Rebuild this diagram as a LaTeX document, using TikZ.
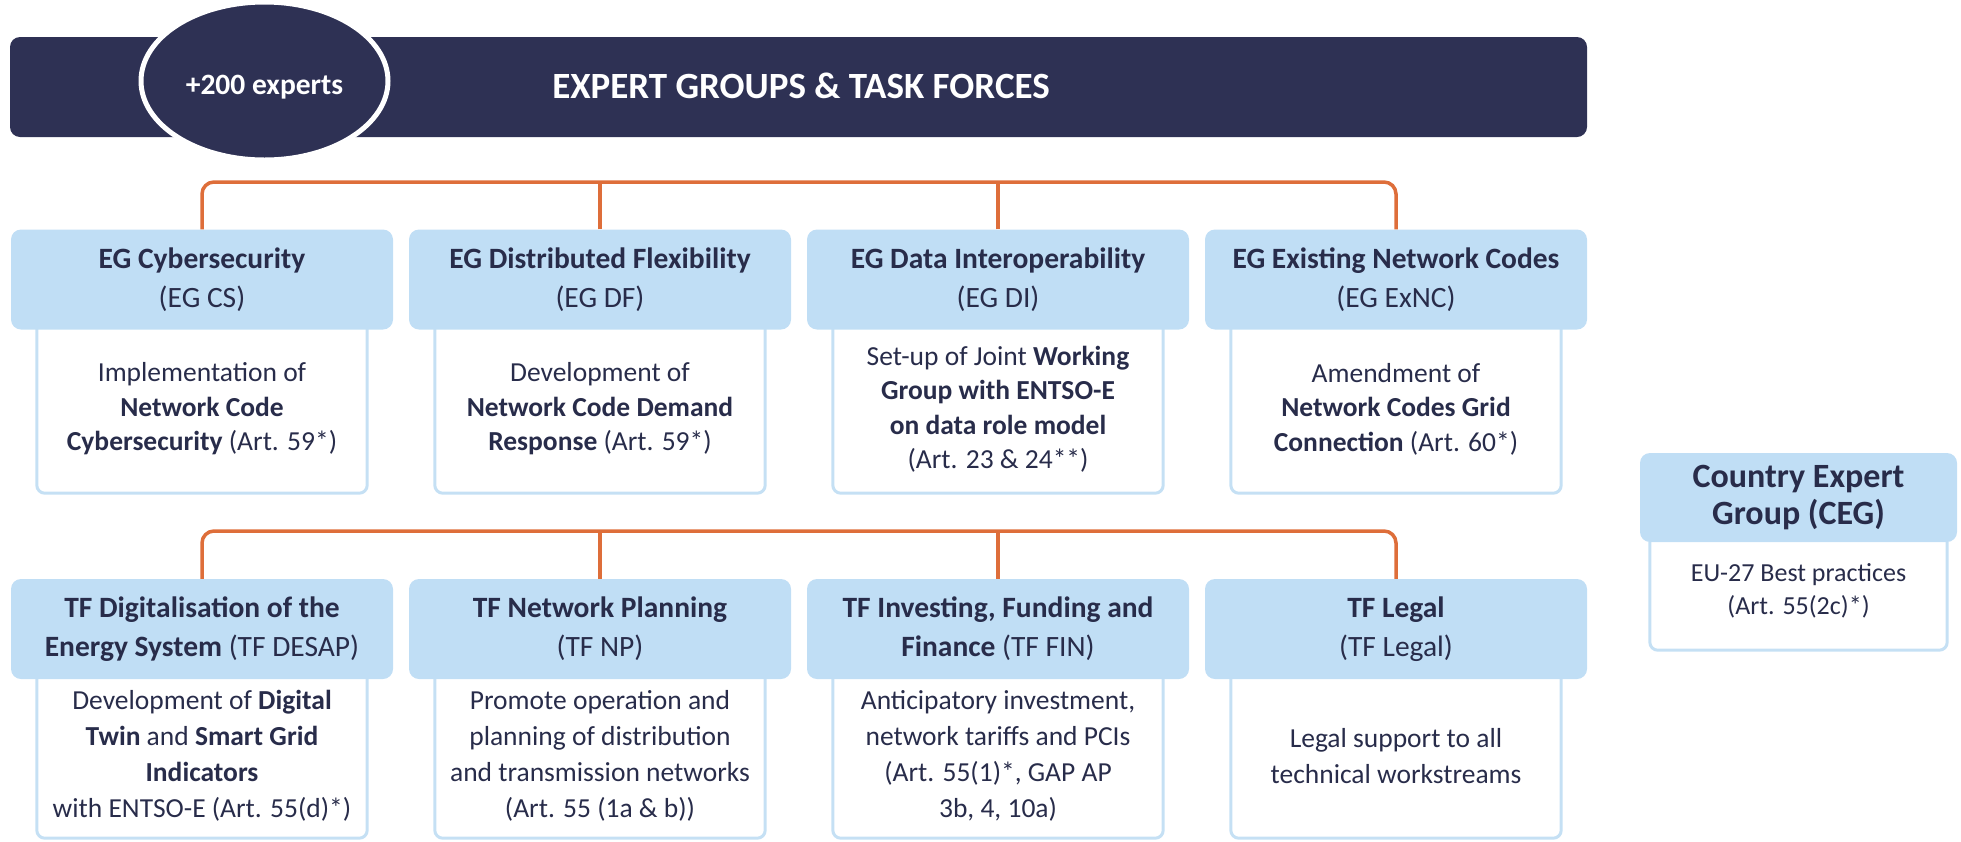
\documentclass[tikz,border=0pt]{standalone}
\usepackage{fontspec}
\setmainfont{Carlito}
\usetikzlibrary{shapes.geometric}
\definecolor{navy}{RGB}{46,49,84}
\definecolor{hdrblue}{RGB}{192,222,245}
\definecolor{bodyblue}{RGB}{197,224,244}
\definecolor{conorange}{RGB}{222,110,58}
\definecolor{txt}{RGB}{40,44,74}
\begin{document}
\begin{tikzpicture}[x=1pt,y=-1pt,
 hdr/.style={fill=hdrblue, rounded corners=10pt, minimum width=382pt, minimum height=100pt, align=center, text=txt, font=\fontsize{29.5}{39}\selectfont, inner sep=0pt},
 bodybox/.style={minimum width=330pt, inner sep=0pt},
 bodytext/.style={align=center, text=txt, font=\fontsize{27.5}{34.5}\selectfont, inner sep=0pt},
 bodyline/.style={draw=bodyblue, line width=3pt, rounded corners=8pt},
 conn/.style={draw=conorange, line width=3.5pt, rounded corners=12pt},
]
\useasboundingbox (0,0) rectangle (1961,841);

% banner
\node[fill=navy, rounded corners=10pt, minimum width=1577pt, minimum height=100pt, inner sep=0pt] (banner) at (798.5,87) {};
\node[text=white, font=\bfseries\fontsize{37}{44}\selectfont] (title) at (801,86) {EXPERT GROUPS \& TASK FORCES};
\node[ellipse, fill=navy, draw=white, line width=5pt, minimum width=247pt, minimum height=158pt, inner sep=0pt] (experts) at (264.5,81) {};
\node[text=white, font=\bfseries\fontsize{29.5}{35}\selectfont] (expertstext) at (264.5,87) {+200 experts};

% bus coordinates
\coordinate (bus1) at (0,182);
\coordinate (bus2) at (0,531);

% row 1 bodies
\foreach \n/\x in {b1/202,b2/600,b3/998,b4/1396}{
  \node[bodybox, minimum height=164pt] (\n) at (\x,411) {};
  \draw[bodyline] (\n.north west) -- (\n.south west) -- (\n.south east) -- (\n.north east);
}
\node[bodytext] (t1) at (202,409) {Implementation of\\\textbf{Network Code}\\\textbf{Cybersecurity} (Art. 59*)};
\node[bodytext] (t2) at (600,409) {Development of\\\textbf{Network Code Demand}\\\textbf{Response} (Art. 59*)};
\node[bodytext] (t3) at (998,409) {Set-up of Joint \textbf{Working}\\\textbf{Group with ENTSO-E}\\\textbf{on data role model}\\(Art. 23 \& 24**)};
\node[bodytext] (t4) at (1396,409) {Amendment of\\\textbf{Network Codes Grid}\\\textbf{Connection} (Art. 60*)};

% row 1 headers
\node[hdr] (h1) at (202,279.5) {\textbf{EG Cybersecurity}\\(EG CS)};
\node[hdr] (h2) at (600,279.5) {\textbf{EG Distributed Flexibility}\\(EG DF)};
\node[hdr] (h3) at (998,279.5) {\textbf{EG Data Interoperability}\\(EG DI)};
\node[hdr] (h4) at (1396,279.5) {\textbf{EG Existing Network Codes}\\(EG ExNC)};

% row 2 bodies
\foreach \n/\x in {b5/202,b6/600,b7/998,b8/1396}{
  \node[bodybox, minimum height=159pt] (\n) at (\x,758.5) {};
  \draw[bodyline] (\n.north west) -- (\n.south west) -- (\n.south east) -- (\n.north east);
}
\node[bodytext, font=\fontsize{27.5}{36}\selectfont] (t5) at (202,756) {Development of \textbf{Digital}\\\textbf{Twin} and \textbf{Smart Grid}\\\textbf{Indicators}\\with ENTSO-E (Art. 55(d)*)};
\node[bodytext, font=\fontsize{27.5}{36}\selectfont] (t6) at (600,756) {Promote operation and\\planning of distribution\\and transmission networks\\(Art. 55 (1a \& b))};
\node[bodytext, font=\fontsize{27.5}{36}\selectfont] (t7) at (998,756) {Anticipatory investment,\\network tariffs and PCIs\\(Art. 55(1)*, GAP AP\\3b, 4, 10a)};
\node[bodytext, font=\fontsize{27.5}{36}\selectfont] (t8) at (1396,756) {Legal support to all\\technical workstreams};

% row 2 headers
\node[hdr] (h5) at (202,629) {\textbf{TF Digitalisation of the}\\\textbf{Energy System} (TF DESAP)};
\node[hdr] (h6) at (600,629) {\textbf{TF Network Planning}\\(TF NP)};
\node[hdr] (h7) at (998,629) {\textbf{TF Investing, Funding and}\\\textbf{Finance} (TF FIN)};
\node[hdr] (h8) at (1396,629) {\textbf{TF Legal}\\(TF Legal)};

% CEG
\node[bodybox, minimum width=297pt, minimum height=108pt] (cegb) at (1798.5,596) {};
\draw[bodyline] (cegb.north west) -- (cegb.south west) -- (cegb.south east) -- (cegb.north east);
\node[bodytext, font=\fontsize{26}{33}\selectfont] (cegt) at (1798.5,591) {EU-27 Best practices\\(Art. 55(2c)*)};
\node[hdr, minimum width=317pt, minimum height=89pt, font=\bfseries\fontsize{34}{37}\selectfont] (ceg) at (1798.5,497.5) {Country Expert\\Group (CEG)};

% connectors
\draw[conn] (h1.north) -- (h1.north |- bus1) -- (h4.north |- bus1) -- (h4.north);
\draw[conn] (h2.north) -- (h2.north |- bus1);
\draw[conn] (h3.north) -- (h3.north |- bus1);
\draw[conn] (h5.north) -- (h5.north |- bus2) -- (h8.north |- bus2) -- (h8.north);
\draw[conn] (h6.north) -- (h6.north |- bus2);
\draw[conn] (h7.north) -- (h7.north |- bus2);
\end{tikzpicture}
\end{document}
